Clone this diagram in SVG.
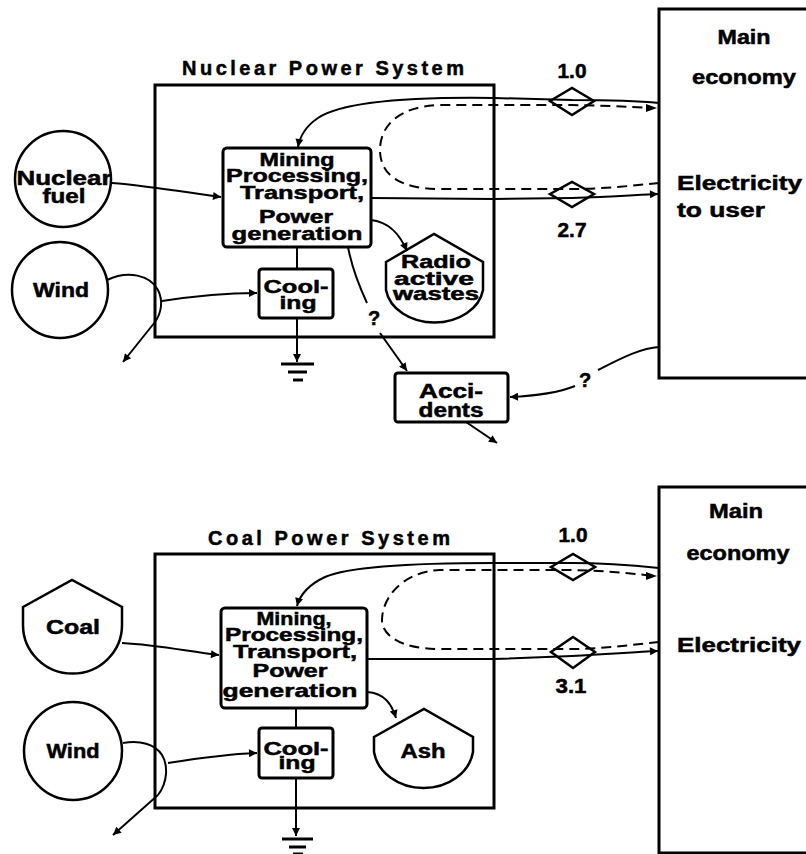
<svg xmlns="http://www.w3.org/2000/svg" width="806" height="854" viewBox="0 0 806 854">
<defs>
<marker id="ah" viewBox="0 0 10 10" refX="10" refY="5" markerWidth="11" markerHeight="8" markerUnits="userSpaceOnUse" orient="auto">
<path d="M0,0 L10,5 L0,10 z" fill="#000"/>
</marker>
<style>
.t{font-family:"Liberation Sans",Arial,Helvetica,sans-serif;font-weight:bold;font-size:20px;text-anchor:middle;fill:#000;stroke:#000;stroke-width:0.5}
.g{font-size:18.5px}
.box{fill:none;stroke:#000;stroke-width:3}
.sh{fill:#fff;stroke:#000;stroke-width:2.5}
.ln{fill:none;stroke:#000;stroke-width:2}
.ar{fill:none;stroke:#000;stroke-width:2;marker-end:url(#ah)}
.da{fill:none;stroke:#000;stroke-width:2;stroke-dasharray:10 6}
.dm{fill:none;stroke:#000;stroke-width:2.5}
.gr{stroke:#000;stroke-width:3}
</style>
</defs>
<rect width="806" height="854" fill="#fff"/>

<!-- ===== Nuclear ===== -->
<g id="nuc-system">
<rect class="box" x="155" y="85" width="339" height="252"/>
<text class="t" x="323" y="75" textLength="282" lengthAdjust="spacing">Nuclear Power System</text>
</g>
<g id="nuc-main">
<rect class="box" x="659" y="9" width="170" height="369"/>
<text class="t" x="744" y="44" textLength="53" lengthAdjust="spacingAndGlyphs">Main</text>
<text class="t" x="744" y="84" textLength="104" lengthAdjust="spacingAndGlyphs">economy</text>
<text class="t" x="677" y="190" textLength="125" lengthAdjust="spacingAndGlyphs" style="text-anchor:start">Electricity</text>
<text class="t" x="677" y="217" textLength="88" lengthAdjust="spacingAndGlyphs" style="text-anchor:start">to user</text>
</g>
<g id="nuc-fuel">
<circle class="sh" cx="63" cy="179" r="48"/>
<text class="t" x="64" y="185" textLength="95" lengthAdjust="spacingAndGlyphs">Nuclear</text>
<text class="t" x="64" y="203" textLength="43" lengthAdjust="spacingAndGlyphs">fuel</text>
</g>
<g id="nuc-wind">
<circle class="sh" cx="60" cy="290" r="48"/>
<text class="t" x="61" y="297" textLength="56" lengthAdjust="spacingAndGlyphs">Wind</text>
</g>
<g id="nuc-gen">
<rect class="box" x="223" y="148" width="148" height="99" rx="4"/>
<text class="t g" x="297" y="166" textLength="75" lengthAdjust="spacingAndGlyphs">Mining</text>
<text class="t g" x="297" y="182" textLength="142" lengthAdjust="spacingAndGlyphs">Processing,</text>
<text class="t g" x="302" y="199" textLength="124" lengthAdjust="spacingAndGlyphs">Transport,</text>
<text class="t g" x="296" y="223" textLength="74" lengthAdjust="spacingAndGlyphs">Power</text>
<text class="t g" x="297" y="240" textLength="131" lengthAdjust="spacingAndGlyphs">generation</text>
</g>
<g id="nuc-cool">
<rect class="box" x="259" y="269" width="74" height="49" rx="3"/>
<text class="t g" x="296" y="293" textLength="65" lengthAdjust="spacingAndGlyphs">Cool-</text>
<text class="t g" x="298" y="309" textLength="37" lengthAdjust="spacingAndGlyphs">ing</text>
</g>
<g id="nuc-wastes">
<path class="sh" d="M386,262 L434,234 L483,262 L483,290 A49,38 0 0 1 386,290 Z"/>
<text class="t g" x="436" y="268" textLength="70" lengthAdjust="spacingAndGlyphs">Radio</text>
<text class="t g" x="434" y="285" textLength="80" lengthAdjust="spacingAndGlyphs">active</text>
<text class="t g" x="436" y="300" textLength="86" lengthAdjust="spacingAndGlyphs">wastes</text>
</g>
<g id="nuc-accidents">
<rect class="box" x="395" y="373" width="113" height="49" rx="3"/>
<text class="t" x="451" y="398" textLength="64" lengthAdjust="spacingAndGlyphs">Acci-</text>
<text class="t" x="451" y="417" textLength="65" lengthAdjust="spacingAndGlyphs">dents</text>
</g>
<g id="nuc-sink">
<line class="gr" x1="281" y1="364" x2="314" y2="364"/>
<line class="gr" x1="288" y1="372" x2="307" y2="372"/>
<line class="gr" x1="293" y1="380" x2="303" y2="380"/>
</g>
<g id="nuc-tx1">
<polygon class="dm" points="550,101 572,88 594,101 572,115"/>
<text class="t" x="572" y="78" textLength="29" lengthAdjust="spacingAndGlyphs">1.0</text>
</g>
<g id="nuc-tx2">
<polygon class="dm" points="550,194 572,182 594,194 572,207"/>
<text class="t" x="572" y="237" textLength="29" lengthAdjust="spacingAndGlyphs">2.7</text>
</g>

<!-- ===== Coal ===== -->
<g id="coal-system">
<rect class="box" x="155" y="554" width="339" height="254"/>
<text class="t" x="329" y="545" textLength="242" lengthAdjust="spacing">Coal Power System</text>
</g>
<g id="coal-main">
<rect class="box" x="659" y="487" width="170" height="366"/>
<text class="t" x="736" y="518" textLength="54" lengthAdjust="spacingAndGlyphs">Main</text>
<text class="t" x="738" y="560" textLength="103" lengthAdjust="spacingAndGlyphs">economy</text>
<text class="t" x="677" y="652" textLength="124" lengthAdjust="spacingAndGlyphs" style="text-anchor:start">Electricity</text>
</g>
<g id="coal-coal">
<path class="sh" d="M23,607 L72,580 L122,607 L122,625 A49,48 0 0 1 23,625 Z"/>
<text class="t" x="73" y="634" textLength="54" lengthAdjust="spacingAndGlyphs">Coal</text>
</g>
<g id="coal-wind">
<circle class="sh" cx="73" cy="751" r="49"/>
<text class="t" x="73" y="758" textLength="53" lengthAdjust="spacingAndGlyphs">Wind</text>
</g>
<g id="coal-gen">
<rect class="box" x="221" y="608" width="146" height="100" rx="4"/>
<text class="t g" x="294" y="625" textLength="75" lengthAdjust="spacingAndGlyphs">Mining,</text>
<text class="t g" x="294" y="641" textLength="138" lengthAdjust="spacingAndGlyphs">Processing,</text>
<text class="t g" x="295" y="658" textLength="124" lengthAdjust="spacingAndGlyphs">Transport,</text>
<text class="t g" x="290" y="677" textLength="75" lengthAdjust="spacingAndGlyphs">Power</text>
<text class="t g" x="290" y="697" textLength="135" lengthAdjust="spacingAndGlyphs">generation</text>
</g>
<g id="coal-cool">
<rect class="box" x="259" y="728" width="74" height="50" rx="3"/>
<text class="t g" x="296" y="755" textLength="65" lengthAdjust="spacingAndGlyphs">Cool-</text>
<text class="t g" x="297" y="769" textLength="37" lengthAdjust="spacingAndGlyphs">ing</text>
</g>
<g id="coal-ash">
<path class="sh" d="M374,737 L424,709 L473,737 L473,752 A50,42 0 0 1 374,752 Z"/>
<text class="t" x="423" y="758" textLength="45" lengthAdjust="spacingAndGlyphs">Ash</text>
</g>
<g id="coal-sink">
<line class="gr" x1="282" y1="839" x2="313" y2="839"/>
<line class="gr" x1="289" y1="847" x2="306" y2="847"/>
<line class="gr" x1="293" y1="854" x2="303" y2="854"/>
</g>
<g id="coal-tx1">
<polygon class="dm" points="551,567 573,554 595,567 573,580"/>
<text class="t" x="573" y="542" textLength="29" lengthAdjust="spacingAndGlyphs">1.0</text>
</g>
<g id="coal-tx2">
<polygon class="dm" points="551,652 573,637 595,652 573,668"/>
<text class="t" x="571" y="693" textLength="31" lengthAdjust="spacingAndGlyphs">3.1</text>
</g>

<g id="connectors">
<!-- nuclear -->
<path class="ar" d="M112,183 C150,186 190,193 221,197"/>
<path class="ln" d="M107,280 C128,270 150,275 158,290 C163,300 162,312 155,322"/>
<path class="ar" d="M155,322 L123,362"/>
<path class="ar" d="M162,301 C195,296 230,293 257,293"/>
<path class="ln" d="M297,247 L297,269"/>
<path class="ar" d="M297,318 L297,362"/>
<path class="ar" d="M371,220 C390,222 400,235 407,251"/>
<path class="ln" d="M348,247 C352,268 360,288 367,303"/>
<text class="t" x="374" y="325">?</text>
<path class="ar" d="M380,333 L407,371"/>
<path class="ar" d="M466,422 L497,443"/>
<path class="ln" d="M659,347 C640,348 618,360 598,370"/>
<text class="t" x="585" y="387">?</text>
<path class="ar" d="M575,386 C560,392 535,396 510,397"/>
<path class="ar" d="M659,103 C630,100 600,100 572,100 L494,98 C420,97 345,100 318,118 C306,126 300,136 298,147"/>
<path class="da" d="M659,183 C630,186 600,189 572,189 L440,189 C400,189 380,175 380,150 C380,125 400,106 440,105 L572,105 C610,106 640,107 652,108"/>
<path d="M646,104 L657,108 L646,112 z" fill="#000"/>
<path class="ar" d="M371,198 L494,199 L572,198 C610,197 635,195 658,194"/>
<!-- coal -->
<path class="ar" d="M122,643 C160,645 190,652 219,655"/>
<path class="ln" d="M123,743 C140,740 155,744 162,755 C168,765 168,782 158,795"/>
<path class="ar" d="M158,795 L113,835"/>
<path class="ar" d="M168,763 C200,758 230,754 257,753"/>
<path class="ln" d="M296,708 L296,728"/>
<path class="ar" d="M296,778 L296,836"/>
<path class="ar" d="M367,692 C385,693 392,705 396,718"/>
<path class="ar" d="M659,568 C630,565 600,563 572,563 L494,563 C420,563 350,566 325,577 C308,585 300,595 297,606"/>
<path class="da" d="M659,642 C630,645 600,649 572,649 L440,649 C400,649 382,635 382,620 C382,600 400,572 440,570 L572,570 C610,571 640,574 652,576"/>
<path d="M646,572 L657,576 L646,580 z" fill="#000"/>
<path class="ar" d="M367,659 L494,659 L572,656 C610,654 635,652 658,651"/>
</g>
</svg>
